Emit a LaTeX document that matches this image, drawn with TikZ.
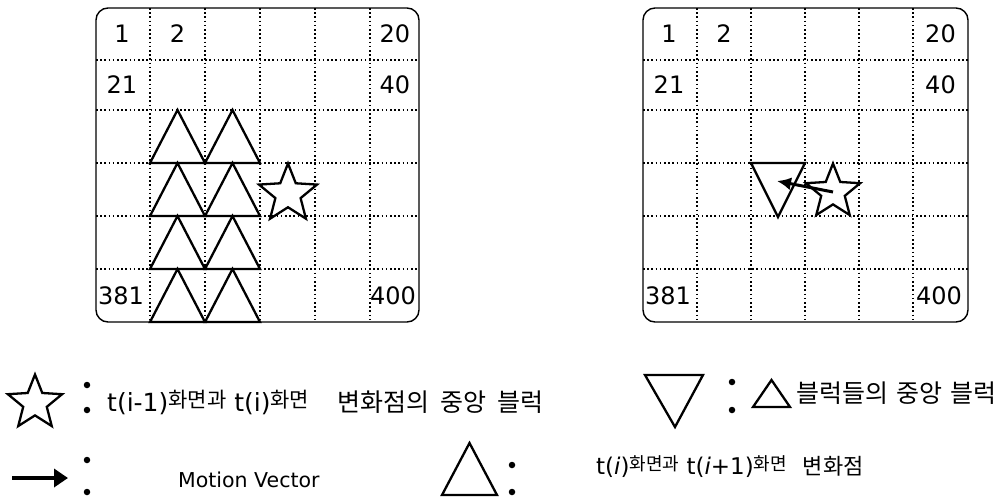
\documentclass[tikz,border=0pt]{standalone}
\usepackage{fontspec}
\setmainfont{DejaVu Sans}
\newfontfamily\kr{Noto Sans CJK KR}
\usetikzlibrary{shapes.geometric,arrows.meta}
\newcommand{\upkr}[3]{\raisebox{#1}{\kr\fontsize{#2}{#2}\selectfont #3}}
\begin{document}
\begin{tikzpicture}[x=1pt,y=-1pt,
  gridline/.style={line width=1.6pt, dash pattern=on 1.6pt off 2.6pt},
  frame/.style={line width=1.4pt, rounded corners=12pt},
  shp/.style={line width=2.3pt, line join=miter},
  num/.style={font=\fontsize{24}{24}\selectfont, inner sep=0pt},
  dot/.style={circle, fill, inner sep=0pt, minimum size=6.5pt},
  starshape/.style={star, star points=5, star point ratio=2.3, draw, line width=2.3pt, inner sep=0pt, minimum size=#1},
  lbl/.style={anchor=west, inner sep=0pt},
  mv/.style={line width=3pt, -{Latex[length=14pt,width=13pt]}}]
\useasboundingbox (0,0) rectangle (1004,499);
% ---------- left grid ----------
\foreach \x in {150,205,260,315,370} \draw[gridline] (\x,8) -- (\x,322);
\foreach \y in {60,110,163,216,269} \draw[gridline] (96,\y) -- (419,\y);
\draw[frame] (96,8) rectangle (419,322);
\node[num] (l1) at (122,34) {1};
\node[num] (l2) at (177.5,34) {2};
\node[num] (l20) at (395,34) {20};
\node[num] (l21) at (122,85) {21};
\node[num] (l40) at (395,85) {40};
\node[num] (l381) at (121,295.5) {381};
\node[num] (l400) at (393,295.5) {400};
\foreach \a/\b in {150/205,205/260}
  \foreach \t/\u in {110/163,163/216,216/269,269/322}
    \draw[shp] (\a,\u) -- ({(\a+\b)/2},\t) -- (\b,\u) -- cycle;
\node[starshape=61pt] (sl) at (288,194) {};
% ---------- right grid ----------
\foreach \x in {697,751,805,859,913} \draw[gridline] (\x,8) -- (\x,322);
\foreach \y in {60,110,163,216,269} \draw[gridline] (643,\y) -- (968,\y);
\draw[frame] (643,8) rectangle (968,322);
\node[num] (r1) at (669,34) {1};
\node[num] (r2) at (724,34) {2};
\node[num] (r20) at (940.5,34) {20};
\node[num] (r21) at (669,85) {21};
\node[num] (r40) at (940.5,85) {40};
\node[num] (r381) at (668,295.5) {381};
\node[num] (r400) at (939,295.5) {400};
\draw[shp] (751,163) -- (805,163) -- (778,217) -- cycle;
\node[starshape=57pt] (sr) at (833,192) {};
\coordinate (tv) at (777,181);
\draw[mv] (sr.center) -- (tv);
% ---------- legend ----------
\node[starshape=57pt] (ls) at (35,403) {};
\node[dot] (d1) at (87,385) {};
\node[dot] (d2) at (87,410) {};
\node[lbl, font=\fontsize{25}{28}\selectfont] (t1) at (107,402)
  {t(i-1)\upkr{4pt}{21}{화면과} t(i)\upkr{4pt}{21}{화면}\hspace{28pt}{\kr\fontsize{25}{28}\selectfont 변화점의\hspace{11pt}중앙\hspace{11pt}블럭}};
\draw[shp] (645,375) -- (703,375) -- (675,427) -- cycle;
\node[dot] (d3) at (732,382) {};
\node[dot] (d4) at (732,410) {};
\draw[shp] (753,407) -- (790,407) -- (771.5,380) -- cycle;
\node[lbl, font=\fontsize{25}{28}\kr\selectfont] (t2) at (796,393) {블럭들의\hspace{8pt}중앙\hspace{8pt}블럭};
\coordinate (a1) at (12,478);
\coordinate (a2) at (68,478);
\draw[line width=4pt, -{Triangle[length=14pt,width=18pt]}] (a1) -- (a2);
\node[dot] (d5) at (87,460) {};
\node[dot] (d6) at (87,492) {};
\node[lbl, font=\fontsize{20.5}{23}\selectfont] (t3) at (178,480) {Motion Vector};
\draw[shp] (442,495) -- (497,495) -- (469.5,443) -- cycle;
\node[dot] (d7) at (512,465) {};
\node[dot] (d8) at (512,492) {};
\node[lbl, font=\fontsize{23}{26}\selectfont] (t4) at (596,467)
  {t(\textit{i})\upkr{4pt}{18}{화면과} t(\textit{i}+1)\upkr{4pt}{18}{화면}\hspace{16pt}{\kr\fontsize{22}{26}\selectfont 변화점}};
\end{tikzpicture}
\end{document}
